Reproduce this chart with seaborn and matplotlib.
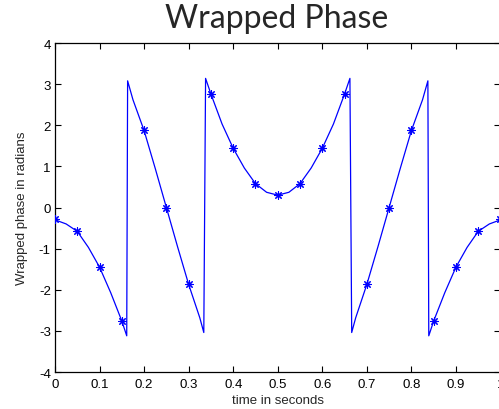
import numpy as np
import pandas as pd
import matplotlib
matplotlib.use("Agg")
import matplotlib.pyplot as plt
import seaborn as sns

# curve (densely traced, including wrap points)
t_line = [0.0, 0.025, 0.05, 0.075, 0.1, 0.125, 0.15, 0.161,
          0.163, 0.175, 0.2, 0.225, 0.25, 0.275, 0.3, 0.325, 0.334,
          0.338, 0.35, 0.375, 0.4, 0.425, 0.45, 0.475, 0.5,
          0.525, 0.55, 0.575, 0.6, 0.625, 0.65, 0.662,
          0.666, 0.675, 0.7, 0.725, 0.75, 0.775, 0.8, 0.825, 0.837,
          0.839, 0.85, 0.875, 0.9, 0.925, 0.95, 0.975, 1.0]
phase_line = [-0.30, -0.40, -0.58, -0.97, -1.45, -2.07, -2.76, -3.12,
              3.08, 2.62, 1.87, 0.95, 0.0, -0.95, -1.87, -2.68, -3.04,
              3.14, 2.76, 2.03, 1.44, 0.96, 0.58, 0.37, 0.30,
              0.37, 0.58, 0.96, 1.44, 2.03, 2.76, 3.14,
              -3.04, -2.68, -1.87, -0.95, 0.0, 0.95, 1.87, 2.62, 3.08,
              -3.12, -2.76, -2.07, -1.45, -0.97, -0.58, -0.40, -0.30]

# sample markers every 0.05 s
t_mark = [0.0, 0.05, 0.1, 0.15, 0.2, 0.25, 0.3, 0.35, 0.4, 0.45, 0.5,
          0.55, 0.6, 0.65, 0.7, 0.75, 0.8, 0.85, 0.9, 0.95, 1.0]
phase_mark = [-0.29, -0.57, -1.45, -2.76, 1.88, 0.0, -1.87, 2.76, 1.44, 0.58, 0.31,
              0.58, 1.44, 2.76, -1.87, 0.0, 1.88, -2.76, -1.45, -0.57, -0.29]

x_ticks = [0, 0.1, 0.2, 0.3, 0.4, 0.5, 0.6, 0.7, 0.8, 0.9, 1]
x_tick_labels = ["0", "0.1", "0.2", "0.3", "0.4", "0.5", "0.6", "0.7", "0.8", "0.9", "1"]
y_ticks = [-4, -3, -2, -1, 0, 1, 2, 3, 4]

sns.set_style("ticks")
plt.rcParams['font.family'] = ['Liberation Sans', 'DejaVu Sans']
plt.rcParams['axes.unicode_minus'] = False

fig = plt.figure(figsize=(4.99, 4.10), dpi=100)
ax = fig.add_axes([55/499, 1 - 373/410, 1.003 - 55/499, (373 - 44)/410])

df_line = pd.DataFrame({"t": t_line, "phase": phase_line})
df_mark = pd.DataFrame({"t": t_mark, "phase": phase_mark})

blue = "#0000ff"
sns.lineplot(data=df_line, x="t", y="phase", sort=False, estimator=None,
             color=blue, linewidth=0.9, ax=ax)
sns.scatterplot(data=df_mark, x="t", y="phase", marker=(8, 2, 0), s=30,
                color=blue, edgecolor=blue, linewidth=0.8, ax=ax, zorder=3)

ax.set_xlim(0, 1)
ax.set_ylim(-4, 4)
ax.set_xticks(x_ticks)
ax.set_xticklabels(x_tick_labels)
ax.set_yticks(y_ticks)
ax.tick_params(direction="in", top=True, right=True, length=4, width=0.8,
               labelsize=9.5, colors="black")
ax.tick_params(axis="x", pad=4)
ax.tick_params(axis="y", pad=3)
for s in ax.spines.values():
    s.set_linewidth(0.9)
    s.set_color("black")

ax.set_xlabel("time in seconds", fontsize=9.5, labelpad=3)
ax.set_ylabel("Wrapped phase in radians", fontsize=9.5, labelpad=8)

fig.text(0.555, 1 - 28/410, "Wrapped Phase", ha="center", va="baseline",
         fontsize=23, family=["Lato", "DejaVu Sans"])

fig.savefig("out.png", dpi=100)
